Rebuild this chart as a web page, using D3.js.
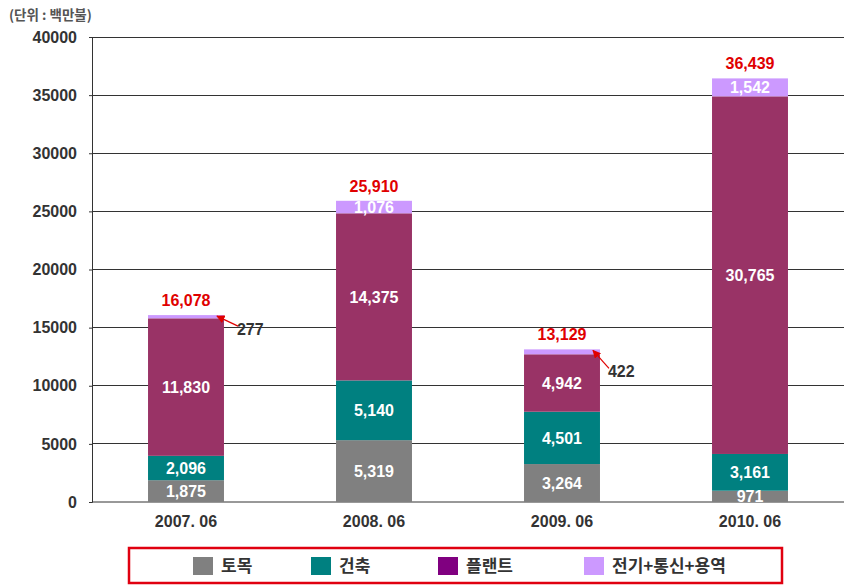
<!DOCTYPE html>
<html><head><meta charset="utf-8">
<script src="https://cdn.jsdelivr.net/npm/d3@7"></script>
<style>body{margin:0;background:#fff}svg{display:block}</style>
</head><body>
<svg id="c" width="864" height="587"></svg>
<script>
const categories = ["2007. 06", "2008. 06", "2009. 06", "2010. 06"];
const seriesNames = ["토목", "건축", "플랜트", "전기+통신+용역"];
const civil = [1875, 5319, 3264, 971];
const building = [2096, 5140, 4501, 3161];
const plant = [11830, 14375, 4942, 30765];
const electric = [277, 1076, 422, 1542];
const totals = [16078, 25910, 13129, 36439];
const yTicks = [0, 5000, 10000, 15000, 20000, 25000, 30000, 35000, 40000];
const barColors = ["#808080", "#008080", "#993366", "#CC99FF"];
const legendColors = ["#808080", "#008080", "#800080", "#CC99FF"];
const unitLabel = "(단위 : 백만불)";

const svg = d3.select("#c");
const pLeft = 92, pRight = 844, pTop = 37, pBottom = 502;
const x = d3.scaleBand().domain(categories).range([pLeft, pRight]).paddingInner(0.596).paddingOuter(0.298);
const y = d3.scaleLinear().domain([0, 40000]).range([pBottom, pTop]);
const numFont = "'Liberation Sans', Arial, sans-serif";
const krFont = "'Noto Sans CJK KR', sans-serif";
const FS = 16;

// gridlines
svg.append("g").selectAll("line").data(yTicks.filter(d => d > 0)).join("line")
  .attr("x1", pLeft).attr("x2", pRight).attr("y1", d => y(d)).attr("y2", d => y(d))
  .attr("stroke", "#333").attr("stroke-width", 1).attr("shape-rendering", "crispEdges");

// y axis
const yAxis = svg.append("g").attr("transform", `translate(${pLeft},0)`)
  .call(d3.axisLeft(y).tickValues(yTicks).tickFormat(d3.format("d")).tickSize(3).tickPadding(12));
yAxis.select(".domain").attr("stroke", "#333");
yAxis.selectAll(".tick line").attr("stroke", "#333");
yAxis.selectAll("text").attr("font-family", numFont).attr("font-weight", "bold").attr("font-size", FS).attr("fill", "#333");

// x axis
const xAxis = svg.append("g").attr("transform", `translate(0,${pBottom})`)
  .call(d3.axisBottom(x).tickSize(0).tickPadding(14));
xAxis.select(".domain").attr("stroke", "#333").attr("d", `M${pLeft},0H${pRight}`);
xAxis.selectAll("text").attr("font-family", numFont).attr("font-weight", "bold").attr("font-size", FS).attr("fill", "#333");

// stacked data
const rows = categories.map((c, i) => ({cat: c, s0: civil[i], s1: building[i], s2: plant[i], s3: electric[i]}));
const stack = d3.stack().keys(["s0", "s1", "s2", "s3"])(rows);
const fmt = d3.format(",");

const g = svg.append("g");
stack.forEach((layer, li) => {
  g.selectAll(null).data(layer).join("rect")
    .attr("x", d => x(d.data.cat)).attr("width", x.bandwidth())
    .attr("y", d => y(d[1])).attr("height", d => y(d[0]) - y(d[1]))
    .attr("fill", barColors[li]);
});

svg.append("defs").append("marker").attr("id", "arr").attr("viewBox", "0 0 10 10")
  .attr("refX", 9).attr("refY", 5).attr("markerWidth", 7).attr("markerHeight", 7).attr("orient", "auto")
  .append("path").attr("d", "M0,0L10,5L0,10z").attr("fill", "#e00000");

// callout offsets (label drop below the bar top) for thin top segments
const calloutDrop = {"2007. 06": 14, "2009. 06": 22};
const calloutShift = {"2007. 06": 13, "2009. 06": 8};

stack.forEach((layer, li) => {
  layer.forEach(d => {
    const v = d[1] - d[0];
    const cx = x(d.data.cat) + x.bandwidth() / 2;
    const h = y(d[0]) - y(d[1]);
    if (li < 3 || h >= 12) {
      g.append("text").attr("x", cx).attr("y", (y(d[0]) + y(d[1])) / 2).attr("dy", "0.36em")
        .attr("text-anchor", "middle").attr("font-family", numFont).attr("font-weight", "bold")
        .attr("font-size", FS).attr("fill", "#fff").text(fmt(v));
    } else {
      const bx = x(d.data.cat) + x.bandwidth();
      const by = y(d[1]);
      const dy = calloutDrop[d.data.cat], dx = calloutShift[d.data.cat];
      g.append("line").attr("x1", bx + dx + 1).attr("y1", by + dy - 3).attr("x2", bx - 7).attr("y2", by + 1)
        .attr("stroke", "#e00000").attr("stroke-width", 1.2).attr("marker-end", "url(#arr)");
      g.append("text").attr("x", bx + dx).attr("y", by + dy).attr("dy", "0.36em")
        .attr("font-family", numFont).attr("font-weight", "bold").attr("font-size", FS)
        .attr("fill", "#333").text(fmt(v));
    }
  });
});

// totals
g.selectAll(null).data(categories).join("text")
  .attr("x", d => x(d) + x.bandwidth() / 2).attr("y", (d, i) => y(totals[i]) - 9)
  .attr("text-anchor", "middle").attr("font-family", numFont).attr("font-weight", "bold")
  .attr("font-size", FS).attr("fill", "#e00000").text((d, i) => fmt(totals[i]));

// unit label
svg.append("text").attr("x", 9).attr("y", 20).attr("font-family", krFont).attr("font-size", 13.5)
  .attr("font-weight", "bold").attr("fill", "#555").text(unitLabel);

// legend
svg.append("rect").attr("x", 129).attr("y", 548).attr("width", 653).attr("height", 35)
  .attr("fill", "#fff").attr("stroke", "#e00010").attr("stroke-width", 2.5);
const legX = [193, 311, 438, 584];
const leg = svg.append("g").selectAll("g").data(seriesNames).join("g")
  .attr("transform", (d, i) => `translate(${legX[i]},557)`);
leg.append("rect").attr("width", 20).attr("height", 18).attr("fill", (d, i) => legendColors[i]);
leg.append("text").attr("x", 28).attr("y", 9).attr("dy", "0.36em").attr("font-family", krFont)
  .attr("font-weight", "bold").attr("font-size", 17).attr("fill", "#333").text(d => d);
</script>
</body></html>
